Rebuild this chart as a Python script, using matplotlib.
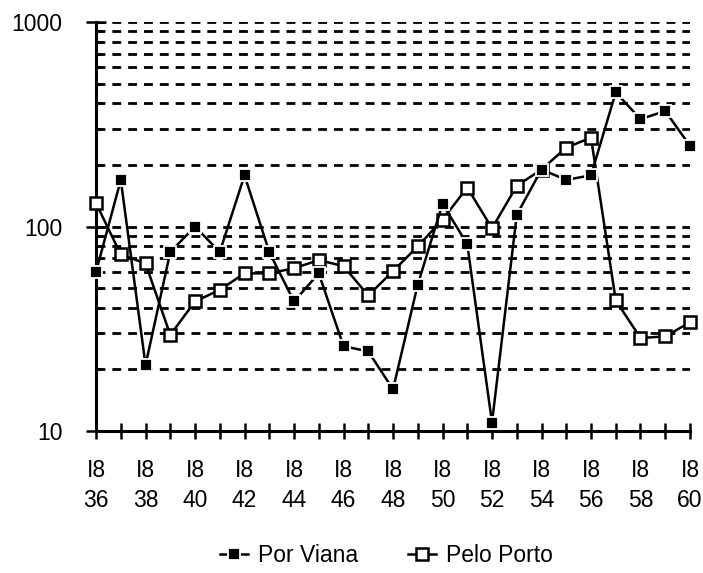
import matplotlib
matplotlib.use("Agg")
import matplotlib.pyplot as plt
from matplotlib.ticker import FixedLocator, NullFormatter

plt.rcParams['font.family'] = ['Liberation Sans', 'DejaVu Sans']

anos = list(range(1836, 1861))
por_viana = [60, 169, 21, 75, 100, 75, 178, 75, 43, 59, 26, 24.5, 16,
             52, 129, 82, 11, 114, 190, 169, 178, 453, 335, 367, 248]
pelo_porto = [130, 73, 66, 29.5, 43, 49, 59, 59, 62.5, 68.5, 64, 46, 60.5,
              80, 108, 155, 98, 158, 190, 243, 272, 43.5, 28.5, 29, 34]
rotulos_x = ["I8\n%d" % (a % 100) for a in range(1836, 1861, 2)]

fig = plt.figure(figsize=(7.03, 5.73), dpi=100)
ax = fig.add_axes([0.1366, 0.2478, 0.8449, 0.7138])

ax.set_yscale('log')
ax.set_ylim(10, 1000)
ax.set_xlim(1836, 1860)

# linhas de grelha tracejadas (major e minor), excepto no eixo
grelha = [v * m for m in (10, 100) for v in range(1, 10)][1:] + [1000]
for g in grelha:
    ax.axhline(g, color='black', lw=2, dashes=(3.2, 2.5), zorder=1)

ax.plot(anos, por_viana, color='black', lw=1.8, marker='s', ms=8,
        mfc='black', mec='white', mew=1.3, clip_on=False, zorder=4,
        label='Por Viana')
ax.plot(anos, pelo_porto, color='black', lw=1.8, marker='s', ms=9,
        mfc='white', mec='black', mew=1.8, clip_on=False, zorder=3,
        label='Pelo Porto')

for s in ('top', 'right'):
    ax.spines[s].set_visible(False)
ax.spines['left'].set_linewidth(2.2)
ax.spines['bottom'].set_linewidth(2.2)

ax.set_xticks(range(1836, 1861, 2))
ax.set_xticklabels(rotulos_x, linespacing=1.4)
ax.xaxis.set_minor_locator(FixedLocator(range(1837, 1861, 2)))
ax.tick_params(axis='x', which='both', direction='inout', length=12,
               width=1.8, pad=14, labelsize=16.5)

ax.set_yticks([10, 100, 1000])
ax.set_yticklabels(['10', '100', '1000'])
ax.yaxis.set_minor_formatter(NullFormatter())
ax.tick_params(axis='y', which='major', direction='inout', length=14,
               width=1.8, pad=17, labelsize=16.5)
ax.tick_params(axis='y', which='minor', direction='in', length=4, width=1.8)

fig.legend(loc='center', bbox_to_anchor=(0.55, 0.031), ncol=2,
           frameon=False, fontsize=16.5, handlelength=1.2,
           columnspacing=2.2, handletextpad=0.45)

fig.savefig('out.png', dpi=100)
